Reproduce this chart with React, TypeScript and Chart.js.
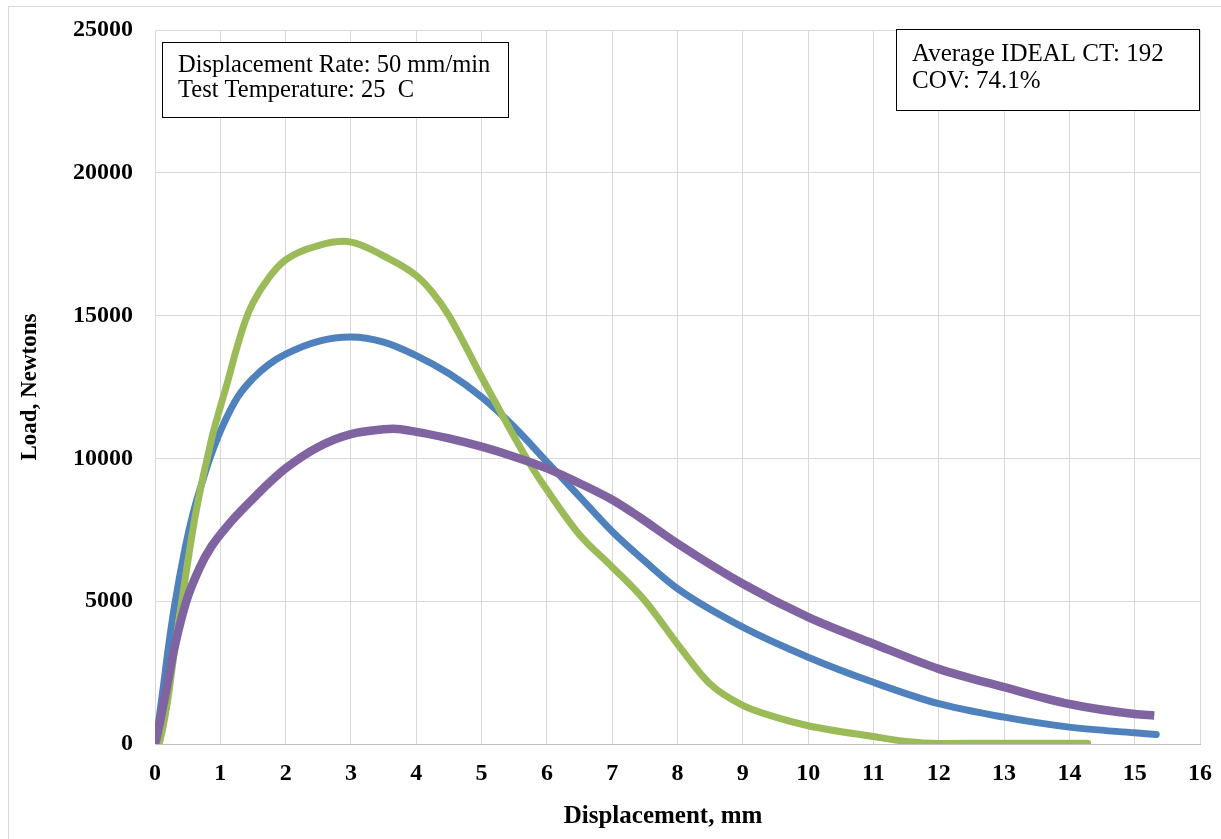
import React, { useEffect, useRef } from "react";
import { Chart, registerables } from "chart.js";

Chart.register(...registerables);

// ---- data ----
const xTickValues = [0, 1, 2, 3, 4, 5, 6, 7, 8, 9, 10, 11, 12, 13, 14, 15, 16];
const yTickValues = [0, 5000, 10000, 15000, 20000, 25000];

const blueDisp = [0, 0.05, 0.14, 0.2, 0.3, 0.46, 0.58, 0.74, 0.84, 1.02, 1.27, 1.5, 1.75, 2.0, 2.5, 3.0, 3.5, 4.0, 4.5, 5.0, 5.5, 6.0, 6.5, 7.0, 7.5, 8.0, 9.0, 10.0, 11.0, 12.0, 13.0, 14.0, 15.0, 15.33];
const blueLoad = [0, 700, 2220, 3300, 4850, 6850, 8050, 9300, 10000, 11050, 12160, 12800, 13300, 13650, 14100, 14250, 14070, 13600, 12970, 12150, 11100, 9880, 8660, 7440, 6400, 5440, 4090, 3040, 2160, 1410, 940, 590, 390, 330];

const greenDisp = [0, 0.05, 0.1, 0.2, 0.3, 0.41, 0.53, 0.63, 0.74, 0.8, 0.89, 1.0, 1.12, 1.25, 1.38, 1.5, 1.75, 2.0, 2.5, 2.9, 3.14, 3.5, 4.0, 4.25, 4.5, 4.75, 5.0, 5.25, 5.5, 5.75, 6.0, 6.5, 7.0, 7.5, 8.0, 8.5, 9.0, 9.5, 10.0, 11.0, 11.5, 12.0, 13.0, 14.28];
const greenLoad = [0, 0, 350, 1600, 3300, 5000, 6800, 8150, 9400, 10000, 10900, 11800, 12750, 13850, 14800, 15450, 16350, 16950, 17450, 17600, 17480, 17090, 16400, 15810, 15000, 13950, 12850, 11800, 10760, 9770, 8900, 7330, 6200, 5020, 3500, 2100, 1350, 940, 640, 260, 90, 20, 30, 30];

const purpleDisp = [0, 0.015, 0.1, 0.2, 0.3, 0.48, 0.69, 0.86, 1.14, 1.55, 1.75, 2.0, 2.5, 3.0, 3.5, 3.65, 4.0, 4.5, 5.0, 5.5, 6.0, 6.5, 7.0, 7.4, 8.0, 9.0, 10.0, 11.0, 12.0, 13.0, 14.0, 15.0, 15.3];
const purpleLoad = [0, 120, 1050, 2220, 3390, 5000, 6200, 6900, 7720, 8700, 9150, 9650, 10400, 10850, 11020, 11040, 10930, 10700, 10410, 10060, 9650, 9130, 8550, 7970, 7020, 5610, 4440, 3510, 2630, 1990, 1400, 1050, 1000];

const noteLeft = ["Displacement Rate: 50 mm/min", "Test Temperature: 25  C"];
const noteRight = ["Average IDEAL CT: 192", "COV: 74.1%"];
const xTitle = "Displacement, mm";
const yTitle = "Load, Newtons";

const SERIF = '"Liberation Serif", "Times New Roman", serif';

function pts(xs: number[], ys: number[]) {
  return xs.map((x, i) => ({ x, y: ys[i] }));
}

function drawNote(ctx: CanvasRenderingContext2D, x: number, y: number, w: number, h: number, lines: string[], tx: number, lineYs: number[], size: number) {
  ctx.fillStyle = "#FFFFFF";
  ctx.fillRect(x, y, w, h);
  ctx.strokeStyle = "#000000";
  ctx.lineWidth = 1;
  ctx.strokeRect(x + 0.5, y + 0.5, w, h);
  ctx.fillStyle = "#000000";
  ctx.font = `${size}px ${SERIF}`;
  ctx.textAlign = "left";
  ctx.textBaseline = "middle";
  lines.forEach((t, i) => ctx.fillText(t, tx, lineYs[i]));
}

const overlay = {
  id: "overlay",
  afterDraw(chart: any) {
    const ctx: CanvasRenderingContext2D = chart.ctx;
    const a = chart.chartArea;
    ctx.save();
    // outer chart border
    ctx.strokeStyle = "#D9D9D9";
    ctx.lineWidth = 1;
    ctx.strokeRect(8.5, 6.5, 1400, 1000);
    // notes
    drawNote(ctx, a.left + 7, a.top + 12, 346, 75, noteLeft, a.left + 23, [a.top + 36, a.top + 61], 24.5);
    drawNote(ctx, a.right - 304, a.top - 1, 303, 81, noteRight, a.right - 288, [a.top + 24, a.top + 51], 25);
    // axis titles
    ctx.fillStyle = "#000000";
    ctx.textAlign = "center";
    ctx.textBaseline = "middle";
    ctx.font = `bold 25px ${SERIF}`;
    ctx.fillText(xTitle, 663, 817);
    ctx.font = `bold 23px ${SERIF}`;
    ctx.translate(30, (a.top + a.bottom) / 2);
    ctx.rotate(-Math.PI / 2);
    ctx.fillText(yTitle, 0, 0);
    ctx.restore();
  },
};

function zeroPadding(s: any) {
  s.paddingTop = 0;
  s.paddingBottom = 0;
  s.paddingLeft = 0;
  s.paddingRight = 0;
}

export default function App() {
  const ref = useRef<HTMLCanvasElement | null>(null);

  useEffect(() => {
    if (!ref.current) return;
    const tickFont = { family: SERIF, size: 24, weight: "bold" as const };
    const chart = new Chart(ref.current, {
      type: "scatter",
      data: {
        datasets: [
          {
            label: "Sample 1",
            data: pts(blueDisp, blueLoad),
            showLine: true,
            borderColor: "#4F81BD",
            backgroundColor: "#4F81BD",
            borderWidth: 7,
            borderCapStyle: "round",
            borderJoinStyle: "round",
            cubicInterpolationMode: "monotone",
            pointRadius: 0,
            order: 3,
          },
          {
            label: "Sample 2",
            data: pts(greenDisp, greenLoad),
            showLine: true,
            borderColor: "#9BBB59",
            backgroundColor: "#9BBB59",
            borderWidth: 7,
            borderCapStyle: "round",
            borderJoinStyle: "round",
            cubicInterpolationMode: "monotone",
            pointRadius: 0,
            order: 2,
          },
          {
            label: "Sample 3",
            data: pts(purpleDisp, purpleLoad),
            showLine: true,
            borderColor: "#8064A2",
            backgroundColor: "#8064A2",
            borderWidth: 8.5,
            borderCapStyle: "butt",
            borderJoinStyle: "round",
            cubicInterpolationMode: "monotone",
            pointRadius: 0,
            order: 1,
          },
        ],
      },
      options: {
        responsive: false,
        animation: false,
        layout: { padding: { top: 30, right: 21, left: 0, bottom: 0 } },
        plugins: {
          legend: { display: false },
          tooltip: { enabled: false },
        },
        scales: {
          x: {
            type: "linear",
            min: 0,
            max: 16,
            afterBuildTicks: (s: any) => {
              s.ticks = xTickValues.map((v) => ({ value: v }));
            },
            ticks: { font: tickFont, color: "#000000", padding: 15, maxRotation: 0, callback: (v: any) => String(v) },
            grid: { color: "#D9D9D9", lineWidth: 1, drawTicks: false },
            border: { color: "#BFBFBF" },
            afterFit: (s: any) => {
              s.height = 95;
              zeroPadding(s);
            },
          },
          y: {
            type: "linear",
            min: 0,
            max: 25000,
            afterBuildTicks: (s: any) => {
              s.ticks = yTickValues.map((v) => ({ value: v }));
            },
            ticks: { font: tickFont, color: "#000000", padding: 22, callback: (v: any) => String(v) },
            grid: { color: "#D9D9D9", lineWidth: 1, drawTicks: false },
            border: { color: "#D9D9D9" },
            afterFit: (s: any) => {
              s.width = 155;
              zeroPadding(s);
            },
          },
        },
      },
      plugins: [overlay],
    });
    return () => chart.destroy();
  }, []);

  return (
    <div style={{ position: "fixed", left: 0, top: 0, width: 1221, height: 839, background: "#FFFFFF" }}>
      <canvas ref={ref} width={1221} height={839} style={{ display: "block" }} />
    </div>
  );
}
